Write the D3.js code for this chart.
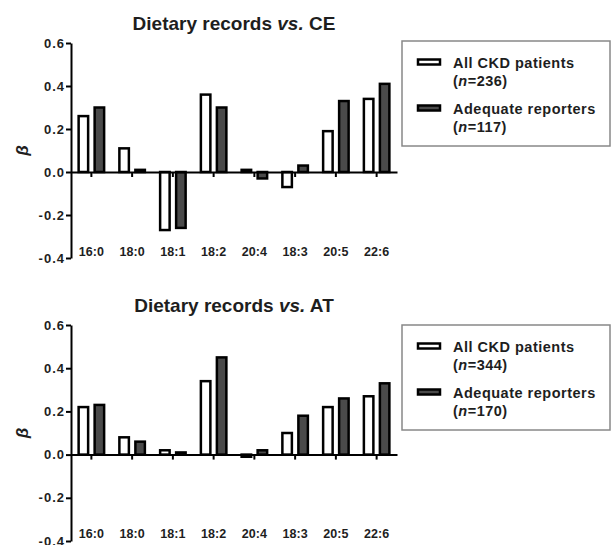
<!DOCTYPE html>
<meta charset="utf-8">
<script src="https://d3js.org/d3.v7.min.js"></script>
<style type="text/css">
body { margin: 0; background: #fff; }
svg { display: block; font-family: Arial, "Liberation Sans", sans-serif; font-weight: bold; }
.axis path, .axis line { stroke: #000; stroke-width: 2px; }
.axis text { fill: #1e1e1e; }
.yaxis text { font-size: 13px; letter-spacing: 1px; }
.xaxis text { font-size: 12.5px; }
</style>
<body>
</body>
<script>

// categories (fatty acids) on x
var categories = ['16:0', '18:0', '18:1', '18:2', '20:4', '18:3', '20:5', '22:6'];
var yTicks = [-0.4, -0.2, 0.0, 0.2, 0.4, 0.6];

// beta values, dietary records vs. CE
var ceAll      = [0.26, 0.11, -0.27, 0.36, 0.01, -0.07, 0.19, 0.34];
var ceAdequate = [0.30, 0.01, -0.26, 0.30, -0.03, 0.03, 0.33, 0.41];

// beta values, dietary records vs. AT
var atAll      = [0.22, 0.08, 0.02, 0.34, -0.01, 0.10, 0.22, 0.27];
var atAdequate = [0.23, 0.06, 0.01, 0.45, 0.02, 0.18, 0.26, 0.33];

var seriesKeys = ['all', 'adequate'];
var ceLegend = [['All CKD patients', '236'], ['Adequate reporters', '117']];
var atLegend = [['All CKD patients', '344'], ['Adequate reporters', '170']];

var fills = { all: '#ffffff', adequate: '#4a4a4a' };

var svg = d3.select('body').append('svg')
    .attr('width', 611)
    .attr('height', 545);

var x = d3.scaleBand()
    .domain(categories)
    .range([71, 397]);

// two bars per category, centred on the tick
var sub = d3.scaleBand()
    .domain(seriesKeys)
    .range([-14, 14])
    .paddingInner(0.25);

var barStroke = 2.5;

function drawPanel(titleWords, allVals, adqVals, legend, yTop, yBottom, legendTop) {

    var y = d3.scaleLinear()
        .domain([-0.4, 0.6])
        .range([yBottom, yTop]);

    var g = svg.append('g');

    // title
    var t = g.append('text')
        .attr('x', 234)
        .attr('y', yTop - 13)
        .attr('text-anchor', 'middle')
        .style('font-size', '19px')
        .style('fill', '#1e1e1e');
    t.append('tspan').text('Dietary records ');
    t.append('tspan').style('font-style', 'italic').text('vs.');
    t.append('tspan').text(' ' + titleWords);

    // y axis
    var yAxis = d3.axisLeft(y)
        .tickValues(yTicks)
        .tickFormat(function(d) { return d.toFixed(1); })
        .tickSizeInner(5)
        .tickSizeOuter(0)
        .tickPadding(1);

    g.append('g')
        .attr('class', 'axis yaxis')
        .attr('transform', 'translate(71,0)')
        .call(yAxis);

    g.append('text')
        .attr('transform', 'translate(28,' + (yTop + yBottom) / 2 + ') rotate(-90)')
        .attr('text-anchor', 'middle')
        .style('font-size', '17px')
        .style('font-style', 'italic')
        .style('fill', '#1e1e1e')
        .text('β');

    // bars
    var rows = categories.map(function(c, i) {
        return { cat: c, all: allVals[i], adequate: adqVals[i] };
    });

    var groups = g.selectAll('.cat')
        .data(rows)
        .enter().append('g')
        .attr('class', 'cat')
        .attr('transform', function(d) { return 'translate(' + (x(d.cat) + x.bandwidth() / 2) + ',0)'; });

    groups.selectAll('rect')
        .data(function(d) { return seriesKeys.map(function(k) { return { key: k, value: d[k] }; }); })
        .enter().append('rect')
        .attr('x', function(d) { return sub(d.key) + barStroke / 2; })
        .attr('width', sub.bandwidth() - barStroke)
        .attr('y', function(d) { return Math.min(y(d.value), y(0)); })
        .attr('height', function(d) { return Math.abs(y(d.value) - y(0)); })
        .style('fill', function(d) { return fills[d.key]; })
        .style('stroke', '#000')
        .style('stroke-width', barStroke);

    // x axis on the zero line, labels at the bottom
    var xAxis = d3.axisBottom(x)
        .tickSizeInner(5)
        .tickSizeOuter(0)
        .tickPadding(70);

    g.append('g')
        .attr('class', 'axis xaxis')
        .attr('transform', 'translate(0,' + y(0) + ')')
        .call(xAxis);

    // legend
    var lg = g.append('g')
        .attr('transform', 'translate(402,' + legendTop + ')');

    lg.append('rect')
        .attr('width', 208)
        .attr('height', 105)
        .style('fill', '#fff')
        .style('stroke', '#888')
        .style('stroke-width', 1.5);

    var offsets = [0, 46];
    seriesKeys.forEach(function(k, i) {
        var item = lg.append('g').attr('transform', 'translate(0,' + offsets[i] + ')');
        item.append('rect')
            .attr('x', 16)
            .attr('y', 18.5)
            .attr('width', 22)
            .attr('height', 5)
            .style('fill', fills[k])
            .style('stroke', '#000')
            .style('stroke-width', barStroke);
        item.append('text')
            .attr('x', 51)
            .attr('y', 27)
            .style('font-size', '14.5px')
            .style('letter-spacing', '0.5px')
            .style('fill', '#1e1e1e')
            .text(legend[i][0]);
        var n = item.append('text')
            .attr('x', 51)
            .attr('y', 45)
            .style('font-size', '14.5px')
            .style('letter-spacing', '0.5px')
            .style('fill', '#1e1e1e');
        n.append('tspan').text('(');
        n.append('tspan').style('font-style', 'italic').text('n');
        n.append('tspan').text('=' + legend[i][1] + ')');
    });
}

drawPanel('CE', ceAll, ceAdequate, ceLegend, 43, 258, 41);
drawPanel('AT', atAll, atAdequate, atLegend, 325, 541, 325);

</script>
